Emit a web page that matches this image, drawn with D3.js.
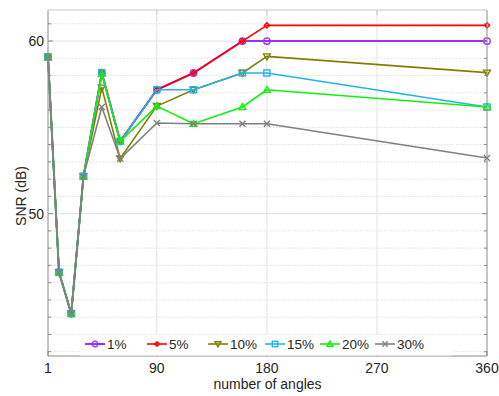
<!DOCTYPE html>
<html>
<head>
<meta charset="utf-8">
<script src="https://cdn.jsdelivr.net/npm/d3@7"></script>
<style>
  html, body { margin: 0; padding: 0; background: #fff; }
  svg { display: block; font-family: "Liberation Sans", Arial, Helvetica, sans-serif; }
</style>
</head>
<body>
<svg id="chart" width="499" height="396"></svg>
<script>
// ---------------- data ----------------
const angles = [1, 10, 20, 30, 45, 60, 90, 120, 160, 180, 360];
const snr1  = [59.07, 46.6, 44.21, 52.16, 58.17, 54.19, 57.18, 58.15, 60.0, 60.0, 60.0];
const snr5  = [59.07, 46.6, 44.21, 52.16, 58.17, 54.19, 57.18, 58.15, 60.0, 60.91, 60.91];
const snr10 = [59.07, 46.6, 44.21, 52.16, 57.3, 53.19, 56.23, 57.18, 58.15, 59.11, 58.17];
const snr15 = [59.07, 46.6, 44.21, 52.16, 58.17, 54.19, 57.18, 57.18, 58.15, 58.15, 56.18];
const snr20 = [59.07, 46.6, 44.21, 52.16, 58.1, 54.19, 56.23, 55.21, 56.18, 57.18, 56.18];
const snr30 = [59.07, 46.6, 44.21, 52.16, 56.18, 53.19, 55.25, 55.21, 55.21, 55.21, 53.22];
const seriesLabels = ["1%", "5%", "10%", "15%", "20%", "30%"];
const xTicks = [1, 90, 180, 270, 360];
const yTicks = [50, 60];
const xLabel = "number of angles";
const yLabel = "SNR (dB)";

const seriesValues = [snr1, snr5, snr10, snr15, snr20, snr30];
const styles = [
  { color: "#9a30ff", marker: "circle",  width: 2.0 },
  { color: "#ff0000", marker: "diamond", width: 1.6 },
  { color: "#808000", marker: "triDown", width: 1.6 },
  { color: "#22b4e8", marker: "square",  width: 1.6 },
  { color: "#14ee14", marker: "triUp",   width: 1.6 },
  { color: "#808080", marker: "x",       width: 1.6 }
];

// ---------------- layout ----------------
const svg = d3.select("#chart");
const L = 48, R = 487, T = 10, B = 356;
const x = d3.scaleLinear().domain([1, 360]).range([L, R]);
const y = d3.scaleLinear().domain([41.75, 61.8]).range([B, T]);

// grid
const g = svg.append("g");
const minor = d3.range(42, 62, 1).filter(v => !yTicks.includes(v));
g.selectAll(".ymin").data(minor).enter().append("line")
  .attr("x1", L).attr("x2", R)
  .attr("y1", d => y(d)).attr("y2", d => y(d))
  .attr("stroke", "#d8d8d8").attr("stroke-width", 0.8)
  .attr("stroke-dasharray", "1.5,1.5");
g.selectAll(".ymaj").data(yTicks).enter().append("line")
  .attr("x1", L).attr("x2", R)
  .attr("y1", d => y(d)).attr("y2", d => y(d))
  .attr("stroke", "#e2e2e2").attr("stroke-width", 1);
g.selectAll(".xmaj").data(xTicks.slice(1, -1)).enter().append("line")
  .attr("y1", T).attr("y2", B)
  .attr("x1", d => x(d)).attr("x2", d => x(d))
  .attr("stroke", "#e2e2e2").attr("stroke-width", 1);

// ---------------- markers ----------------
function drawMarker(sel, type, color, s) {
  if (type === "circle") {
    sel.append("circle").attr("r", s * 0.95).attr("fill", "none")
      .attr("stroke", color).attr("stroke-width", 1.4);
  } else if (type === "diamond") {
    const d = s * 0.75;
    sel.append("path").attr("d", `M0,${-d}L${d},0L0,${d}L${-d},0Z`)
      .attr("fill", "none").attr("stroke", color).attr("stroke-width", 1.4);
  } else if (type === "square") {
    sel.append("rect").attr("x", -s * 0.9).attr("y", -s * 0.9)
      .attr("width", s * 1.8).attr("height", s * 1.8)
      .attr("fill", "none").attr("stroke", color).attr("stroke-width", 1.4);
  } else if (type === "triUp") {
    sel.append("path").attr("d", `M0,${-s}L${s},${s * 0.75}L${-s},${s * 0.75}Z`)
      .attr("fill", "none").attr("stroke", color).attr("stroke-width", 1.4);
  } else if (type === "triDown") {
    sel.append("path").attr("d", `M0,${s}L${s},${-s * 0.75}L${-s},${-s * 0.75}Z`)
      .attr("fill", "none").attr("stroke", color).attr("stroke-width", 1.4);
  } else if (type === "x") {
    const d = s * 0.9;
    sel.append("path").attr("d", `M${-d},${-d}L${d},${d}M${-d},${d}L${d},${-d}`)
      .attr("fill", "none").attr("stroke", color).attr("stroke-width", 1.4);
  }
}

// ---------------- series ----------------
const line = d3.line().x(d => x(d[0])).y(d => y(d[1]));
const plot = svg.append("g");
seriesValues.forEach((vals, i) => {
  const st = styles[i];
  const pts = angles.map((a, j) => [a, vals[j]]);
  const sg = plot.append("g");
  sg.append("path").datum(pts).attr("d", line)
    .attr("fill", "none").attr("stroke", st.color)
    .attr("stroke-width", st.width).attr("stroke-linejoin", "round");
  pts.forEach(p => {
    const m = sg.append("g").attr("transform", `translate(${x(p[0])},${y(p[1])})`);
    drawMarker(m, st.marker, st.color, 3.4);
  });
});

// ---------------- axes box & ticks ----------------
const ax = svg.append("g");
const axisColor = "#8a8a8a";
ax.append("line").attr("x1", L).attr("x2", R).attr("y1", T).attr("y2", T).attr("stroke", "#c8c8c8").attr("stroke-width", 1);
ax.append("line").attr("x1", L).attr("x2", R).attr("y1", B).attr("y2", B).attr("stroke", axisColor).attr("stroke-width", 1);
ax.append("line").attr("x1", L).attr("x2", L).attr("y1", T).attr("y2", B).attr("stroke", axisColor).attr("stroke-width", 1);
ax.append("line").attr("x1", R).attr("x2", R).attr("y1", T).attr("y2", B).attr("stroke", axisColor).attr("stroke-width", 1);

const allY = d3.range(42, 62, 1);
allY.forEach(v => {
  const len = yTicks.includes(v) ? 5 : 3;
  ax.append("line").attr("x1", L).attr("x2", L + len).attr("y1", y(v)).attr("y2", y(v)).attr("stroke", axisColor);
  ax.append("line").attr("x1", R).attr("x2", R - len).attr("y1", y(v)).attr("y2", y(v)).attr("stroke", axisColor);
});
xTicks.forEach(v => {
  ax.append("line").attr("x1", x(v)).attr("x2", x(v)).attr("y1", B).attr("y2", B - 5).attr("stroke", axisColor);
  ax.append("line").attr("x1", x(v)).attr("x2", x(v)).attr("y1", T).attr("y2", T + 5).attr("stroke", "#c8c8c8");
});

// tick labels
ax.selectAll(".xl").data(xTicks).enter().append("text")
  .attr("x", d => x(d)).attr("y", 373)
  .attr("text-anchor", "middle").attr("font-size", 14).attr("fill", "#262626")
  .text(d => d);
ax.selectAll(".yl").data(yTicks).enter().append("text")
  .attr("x", 44).attr("y", d => y(d) + 5)
  .attr("text-anchor", "end").attr("font-size", 14).attr("fill", "#262626")
  .text(d => d);

// axis labels
svg.append("text").attr("x", (L + R) / 2).attr("y", 389)
  .attr("text-anchor", "middle").attr("font-size", 14).attr("fill", "#262626")
  .text(xLabel);
svg.append("text").attr("transform", "translate(26,196) rotate(-90)")
  .attr("text-anchor", "middle").attr("font-size", 14).attr("fill", "#262626")
  .text(yLabel);

// ---------------- legend ----------------
const leg = svg.append("g");
leg.append("rect").attr("x", 80).attr("y", 335).attr("width", 372).attr("height", B - 335 - 0.5)
  .attr("fill", "#fff");
const legCenters = [95, 157, 218, 275, 330, 385];
seriesLabels.forEach((lab, i) => {
  const st = styles[i];
  const cx = legCenters[i];
  const cy = 344;
  leg.append("line").attr("x1", cx - 10).attr("x2", cx + 10).attr("y1", cy).attr("y2", cy)
    .attr("stroke", st.color).attr("stroke-width", st.width);
  const m = leg.append("g").attr("transform", `translate(${cx},${cy})`);
  drawMarker(m, st.marker, st.color, 3);
  leg.append("text").attr("x", cx + 12).attr("y", cy + 5)
    .attr("font-size", 13.5).attr("fill", "#262626").text(lab);
});
</script>
</body>
</html>
